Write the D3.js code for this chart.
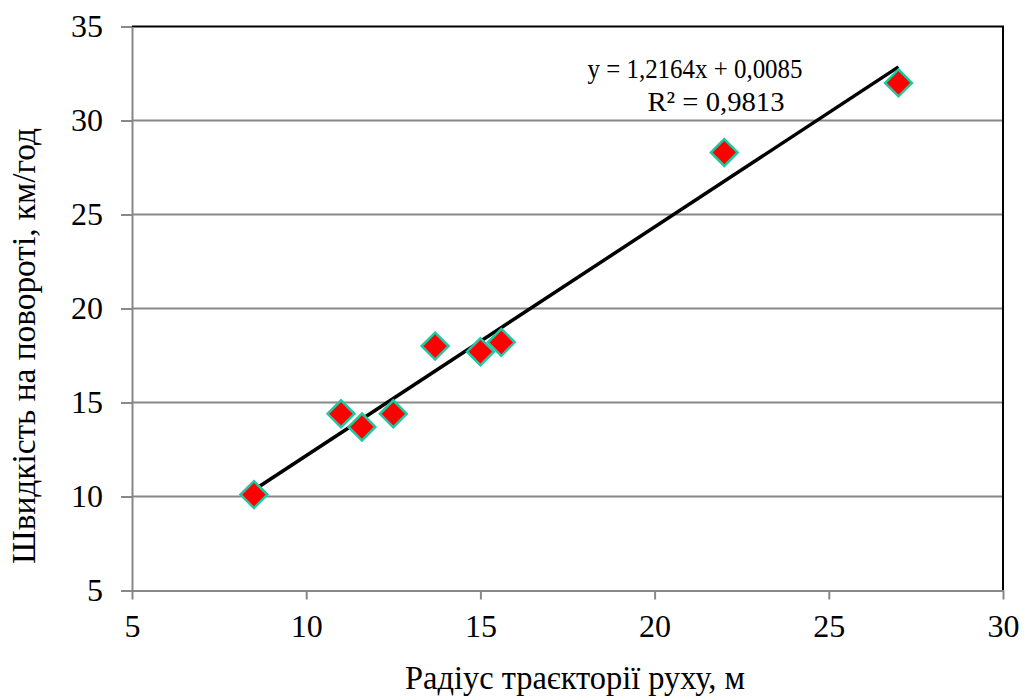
<!DOCTYPE html>
<html>
<head>
<meta charset="utf-8">
<script src="https://cdn.jsdelivr.net/npm/d3@7"></script>
<style>
  body { margin: 0; background: #fff; }
  text { font-family: "Liberation Serif", "Times New Roman", serif; fill: #000; }
</style>
</head>
<body>
<svg width="1024" height="698"></svg>
<script>
// data
const radius = [8.5, 11, 11.6, 12.5, 13.7, 15, 15.6, 22, 27];
const speed  = [10.1, 14.4, 13.7, 14.4, 18.0, 17.7, 18.2, 28.3, 32.0];
const xTicks = [5, 10, 15, 20, 25, 30];
const yTicks = [5, 10, 15, 20, 25, 30, 35];
const slope = 1.2164, intercept = 0.0085;
const eqLines = ["y = 1,2164x + 0,0085", "R² = 0,9813"];

const svg = d3.select('svg');

// plot box
const x = d3.scaleLinear().domain([5, 30]).range([132, 1003]);
const y = d3.scaleLinear().domain([5, 35]).range([590.5, 26.5]);

// gridlines
svg.append('g')
  .selectAll('line')
  .data(yTicks.slice(1, -1))
  .enter().append('line')
  .attr('x1', x(5)).attr('x2', x(30))
  .attr('y1', d => y(d)).attr('y2', d => y(d))
  .attr('stroke', '#888').attr('stroke-width', 2);

// top and right border (black)
svg.append('path')
  .attr('d', `M${x(5)},${y(35)}H${x(30)}V${y(5)}`)
  .attr('fill', 'none').attr('stroke', '#000').attr('stroke-width', 2);

// axes
const xAxis = svg.append('g')
  .attr('transform', `translate(0,${y(5)})`)
  .call(d3.axisBottom(x).tickValues(xTicks).tickSize(9).tickSizeOuter(0).tickPadding(15));
const yAxis = svg.append('g')
  .attr('transform', `translate(${x(5)},0)`)
  .call(d3.axisLeft(y).tickValues(yTicks).tickSize(11).tickSizeOuter(0).tickPadding(18));

[xAxis, yAxis].forEach(g => {
  g.select('.domain').attr('stroke', '#888').attr('stroke-width', 2);
  g.selectAll('.tick line').attr('stroke', '#888').attr('stroke-width', 2);
  g.selectAll('.tick text')
    .attr('fill', '#000')
    .style('font-family', '"Liberation Serif", serif')
    .style('font-size', '32px');
});
xAxis.selectAll('.tick text').attr('dy', '0.71em');

// trend line
svg.append('line')
  .attr('x1', x(d3.min(radius))).attr('y1', y(slope * d3.min(radius) + intercept))
  .attr('x2', x(d3.max(radius))).attr('y2', y(slope * d3.max(radius) + intercept))
  .attr('stroke', '#000').attr('stroke-width', 3.5);

// diamond markers
const diamond = d3.symbol().type(d3.symbolDiamond2).size(460);
svg.append('g')
  .selectAll('path')
  .data(radius.map((r, i) => [r, speed[i]]))
  .enter().append('path')
  .attr('d', diamond)
  .attr('transform', d => `translate(${x(d[0])},${y(d[1])})`)
  .attr('fill', '#ff0000')
  .attr('stroke', '#20c8a0')
  .attr('stroke-width', 2.5);

// equation label
svg.append('text')
  .attr('x', 695).attr('y', 78)
  .attr('text-anchor', 'middle')
  .attr('textLength', 215).attr('lengthAdjust', 'spacingAndGlyphs')
  .style('font-size', '28px')
  .text(eqLines[0]);
svg.append('text')
  .attr('x', 716).attr('y', 111)
  .attr('text-anchor', 'middle')
  .attr('textLength', 137).attr('lengthAdjust', 'spacingAndGlyphs')
  .style('font-size', '28px')
  .text(eqLines[1]);

// axis titles
svg.append('text')
  .attr('x', 575).attr('y', 689)
  .attr('text-anchor', 'middle')
  .attr('textLength', 340).attr('lengthAdjust', 'spacingAndGlyphs')
  .style('font-size', '33px')
  .text('Радіус траєкторії руху, м');

svg.append('text')
  .attr('transform', 'translate(35,346) rotate(-90)')
  .attr('text-anchor', 'middle')
  .attr('textLength', 436).attr('lengthAdjust', 'spacingAndGlyphs')
  .style('font-size', '33px')
  .text('Швидкість на повороті, км/год');
</script>
</body>
</html>
